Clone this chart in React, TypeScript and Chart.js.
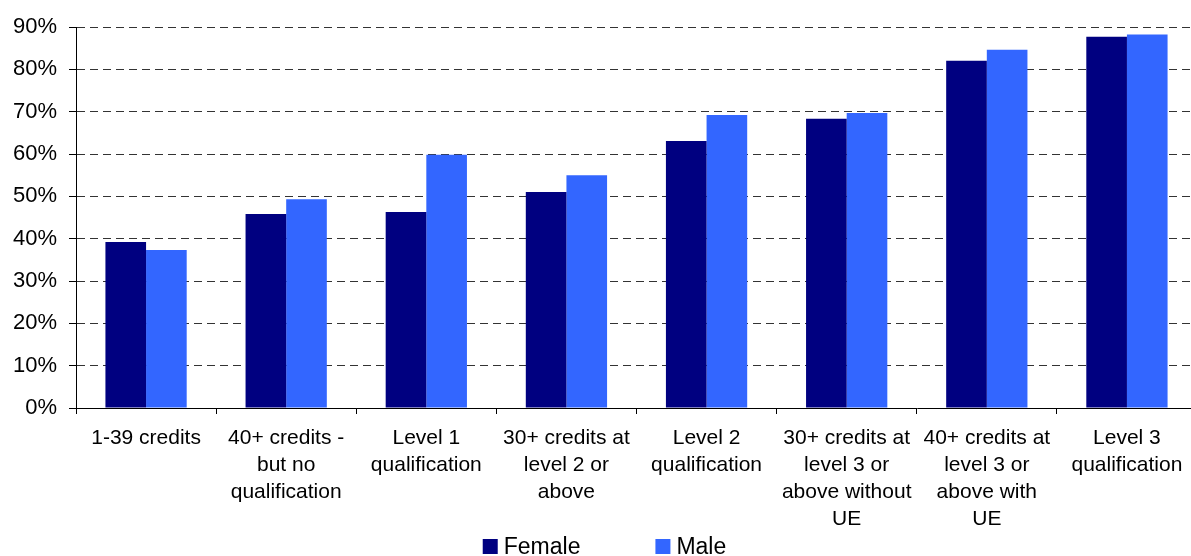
import React, { useEffect, useRef } from "react";
import { Chart, registerables } from "chart.js";

Chart.register(...registerables);

const categories: (string | string[])[] = [
  "1-39 credits",
  ["40+ credits -", "but no", "qualification"],
  ["Level 1", "qualification"],
  ["30+ credits at", "level 2 or", "above"],
  ["Level 2", "qualification"],
  ["30+ credits at", "level 3 or", "above without", "UE"],
  ["40+ credits at", "level 3 or", "above with", "UE"],
  ["Level 3", "qualification"],
];

const femaleValues = [39.2, 45.8, 46.3, 51.0, 63.1, 68.3, 82.0, 87.7];
const maleValues = [37.3, 49.3, 59.8, 55.0, 69.2, 69.7, 84.6, 88.2];

const yTicks = [0, 10, 20, 30, 40, 50, 60, 70, 80, 90];

const FONT = "'Liberation Sans', Arial, sans-serif";

const bottomLegend = {
  id: "bottomLegend",
  afterDraw(chart: any) {
    const ctx = chart.ctx;
    const ds = chart.data.datasets;
    ctx.save();
    ctx.font = `23px ${FONT}`;
    ctx.textBaseline = "middle";
    ctx.textAlign = "left";
    const box = 15;
    const gap = 6;
    const itemGap = 75;
    const widths = ds.map((d: any) => box + gap + ctx.measureText(d.label).width);
    const total = widths.reduce((a: number, b: number) => a + b, 0) + itemGap * (ds.length - 1);
    let x = 604.5 - total / 2;
    const yc = 546.5;
    ds.forEach((d: any, i: number) => {
      ctx.fillStyle = d.backgroundColor;
      ctx.fillRect(x, yc - box / 2, box, box);
      ctx.fillStyle = "#000";
      ctx.fillText(d.label, x + box + gap, yc + 1);
      x += widths[i] + itemGap;
    });
    ctx.restore();
  },
};

export default function App() {
  const ref = useRef<HTMLCanvasElement>(null);
  useEffect(() => {
    if (!ref.current) return;
    const chart = new Chart(ref.current, {
      type: "bar",
      data: {
        labels: categories,
        datasets: [
          { label: "Female", data: femaleValues, backgroundColor: "#000080", borderWidth: 0 },
          { label: "Male", data: maleValues, backgroundColor: "#3366FF", borderWidth: 0 },
        ],
      },
      options: {
        animation: false,
        responsive: false,
        layout: { padding: { top: 27, right: 3, bottom: 0, left: 0 } },
        plugins: { legend: { display: false }, tooltip: { enabled: false } },
        datasets: { bar: { categoryPercentage: 0.58, barPercentage: 1 } },
        scales: {
          x: {
            grid: {
              offset: true,
              drawOnChartArea: false,
              drawTicks: true,
              tickLength: 6,
              tickColor: "#000",
              tickWidth: 1,
            },
            border: { display: true, color: "#000", width: 1 },
            ticks: {
              autoSkip: false,
              maxRotation: 0,
              minRotation: 0,
              color: "#000",
              padding: 11,
              font: { family: FONT, size: 21, lineHeight: "27px" },
            },
            afterFit: (s: any) => {
              s.height = 148;
            },
          },
          y: {
            min: 0,
            max: 90,
            afterBuildTicks: (s: any) => {
              s.ticks = yTicks.map((v) => ({ value: v }));
            },
            grid: {
              color: "#333",
              lineWidth: 1,
              drawTicks: true,
              tickLength: 7,
              tickColor: "#000",
              tickBorderDash: [],
            },
            border: { display: true, color: "#000", width: 1, dash: [8, 5] },
            ticks: {
              color: "#000",
              padding: 12,
              font: { family: FONT, size: 22 },
              callback: (v: any) => `${v}%`,
            },
            afterFit: (s: any) => {
              s.width = 76;
            },
          },
        },
      },
      plugins: [bottomLegend],
    });
    return () => chart.destroy();
  }, []);
  return (
    <div
      style={{
        position: "absolute",
        left: 0,
        top: 0,
        width: 1191,
        height: 556,
        overflow: "hidden",
        background: "#fff",
      }}
    >
      <canvas ref={ref} width={1200} height={556} style={{ display: "block" }} />
    </div>
  );
}
